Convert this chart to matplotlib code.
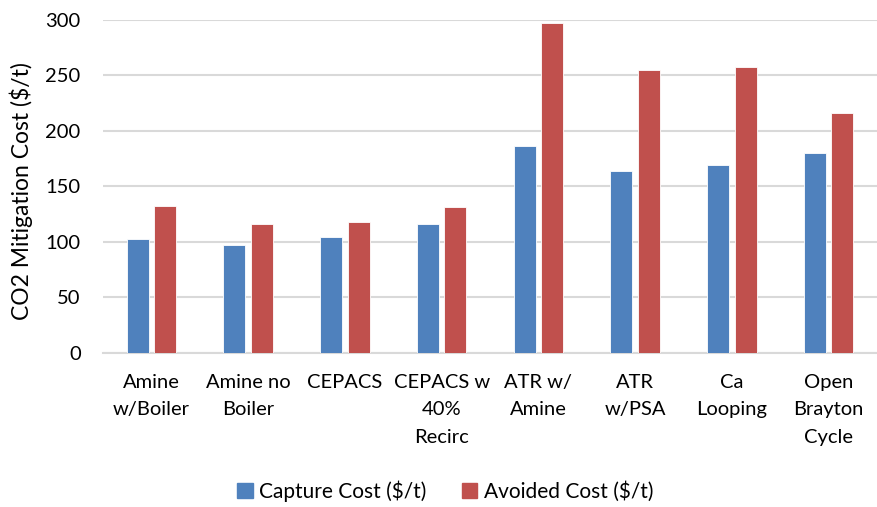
import numpy as np
import matplotlib.pyplot as plt
from matplotlib.patches import Patch

plt.rcParams['font.family'] = ['Lato', 'DejaVu Sans']

# mitigation cost per capture process, $/t
processes = ["Amine\nw/Boiler", "Amine no\nBoiler", "CEPACS", "CEPACS w\n40%\nRecirc",
             "ATR w/\nAmine", "ATR\nw/PSA", "Ca\nLooping", "Open\nBrayton\nCycle"]
capture_cost = [102.5, 97, 104, 116.5, 186, 163.5, 169, 180]
avoided_cost = [132.5, 116.5, 117.5, 131, 297, 255, 257.5, 216]

blue = "#4F81BD"
red = "#C0504D"
fs = 14.5

fig = plt.figure(figsize=(8.77, 5.07), dpi=100)
ax = fig.add_axes([0.1174, 0.3043, 0.8826, 0.6563])

x = np.arange(len(processes))
w = 0.227
off = 0.142
ax.bar(x - off, capture_cost, w, color=blue, edgecolor="white", linewidth=0.6, zorder=3)
ax.bar(x + off, avoided_cost, w, color=red, edgecolor="white", linewidth=0.6, zorder=3)

ax.set_xlim(-0.5, len(processes) - 0.5)
ax.set_ylim(0, 300)
ax.set_yticks(range(0, 301, 50))
ax.yaxis.grid(True, color="#d9d9d9", linewidth=1.5, zorder=0)
ax.set_axisbelow(True)
for s in ["top", "right", "left"]:
    ax.spines[s].set_visible(False)
ax.spines["bottom"].set_color("#d9d9d9")
ax.spines["bottom"].set_linewidth(1.5)
ax.tick_params(axis="both", length=0, labelsize=fs, colors="black")
ax.tick_params(axis="y", pad=16)
ax.tick_params(axis="x", pad=15)
ax.set_xticks(x)
ax.set_xticklabels(processes, linespacing=1.78)

fig.text(21.5 / 877, 1 - 191 / 507, "CO2 Mitigation Cost ($/t)", rotation=90,
         ha="center", va="center", fontsize=16.5)

handles = [Patch(color=blue, label="Capture Cost ($/t)"),
           Patch(color=red, label="Avoided Cost ($/t)")]
fig.legend(handles=handles, loc="center", bbox_to_anchor=(445 / 877, 1 - 491 / 507), ncol=2,
           frameon=False, fontsize=15, handlelength=0.75, handleheight=0.75,
           handletextpad=0.3, columnspacing=1.7)

fig.savefig("out.png", dpi=100)
